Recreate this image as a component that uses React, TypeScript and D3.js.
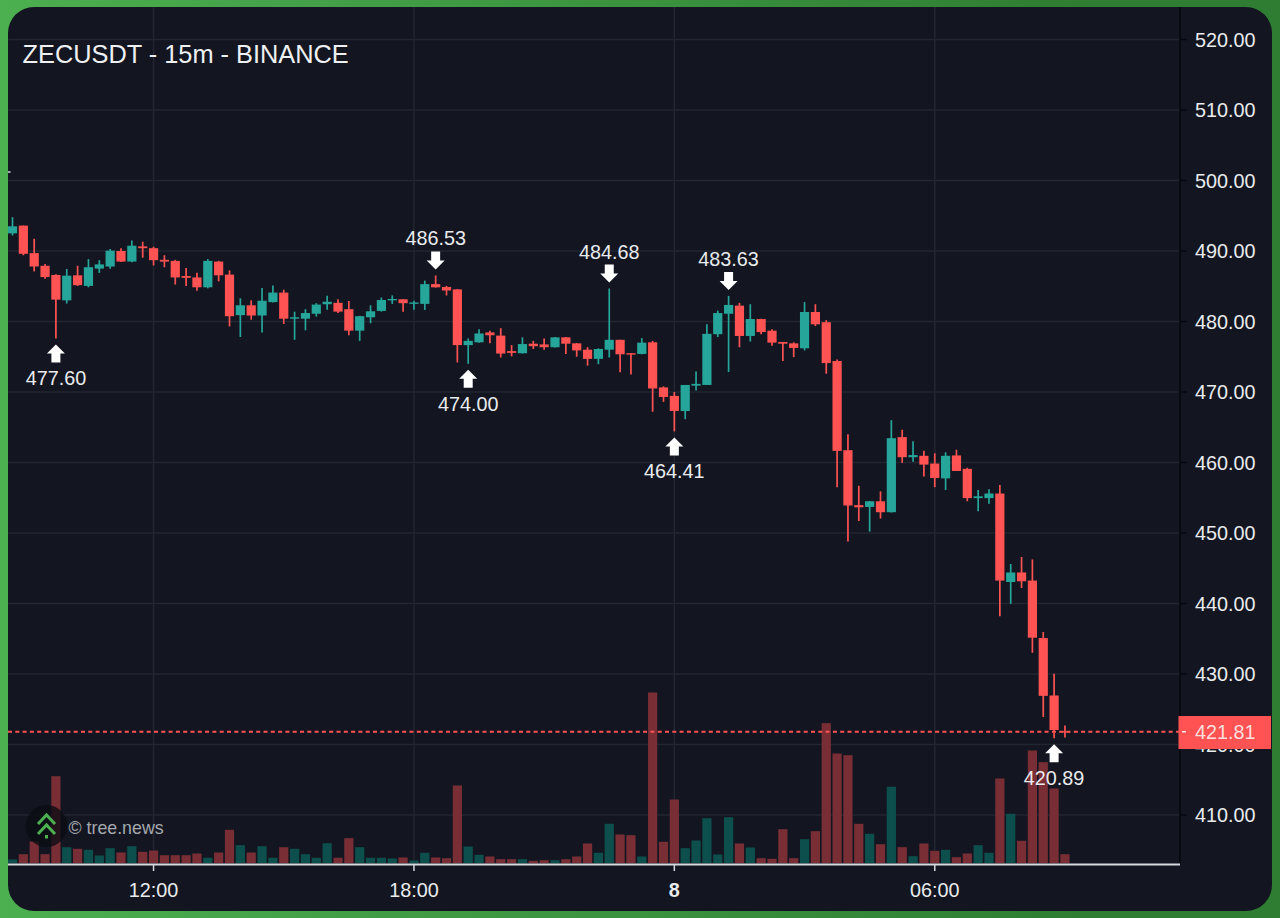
import React from "react";
import * as d3 from "d3";

const title = "ZECUSDT - 15m - BINANCE";
const watermark = "© tree.news";

const opens = [492.5,493.6,489.7,487.9,486.6,483,486.55,485.05,487.5,487.8,490,488.5,490.65,490.4,488.75,488.6,486.45,486.25,484.85,488.5,486.65,480.9,482.3,480.85,482.75,484.1,480.4,480.4,481.1,482.45,482.65,481.75,478.7,480.6,481.5,483,483.15,482.55,482.5,485.3,484.9,484.55,476.65,477.05,478.45,478,475.8,475.5,476.85,476.75,476.35,477.75,476.9,476,474.7,476,477.4,475.5,475.4,477.05,470.65,469.45,467.3,470.9,471,478.2,481.1,482.25,477.95,480.35,478.7,477.1,476.9,476.2,481.35,479.9,474.4,461.75,453.95,453.7,454.5,452.95,463.6,460.75,460.95,459.85,457.75,461,459.1,454.95,454.95,455.6,443.05,444.4,443.25,435.1,426.95,421.9];
const highs = [494.8,493.6,491.75,488.15,486.7,487.45,487.9,488.85,488.7,490.3,490.4,491.5,491.3,490.6,489.4,488.75,487.6,486.9,488.85,488.6,487.25,483.3,483,484.75,485.1,484.5,481.4,481.75,482.6,483.65,483.15,482.9,480.8,482.3,483.4,483.7,483.15,482.95,485.8,486.53,485.05,484.6,477.6,478.9,478.7,479.05,476.65,477.75,477.25,477.6,477.8,477.8,476.95,476.35,476.2,484.68,477.4,475.5,477.65,477.25,470.8,470,470.95,472.9,479.6,481.55,483.63,482.65,482.45,480.4,478.9,477.1,477.05,482.75,482.45,480.2,474.6,464,456.7,454.55,455.9,466,464.65,463,461.65,461.3,461.45,461.8,459.25,456.1,456.2,456.8,445.6,446.6,446.25,435.95,430.05,422.7];
const lows = [492.2,489.4,487.1,486.05,477.6,482.55,485.05,484.85,486.9,487.5,488.45,488.4,489.05,487.95,487.7,485.25,485.05,484.35,484.7,485.7,479.3,477.8,480.25,478.45,482.7,479.65,477.4,478.75,480.7,481.65,481.2,478.05,477.25,479.75,481.4,482.5,481.4,481.65,481.65,484.8,483.7,474.2,474,477,476.9,474.9,475.05,475.45,476.1,476,476.3,475.4,475,473.75,473.95,474.9,472.8,472.5,475.35,467.2,468.6,464.41,466.15,470.2,471,477.8,472.85,476.35,477.15,478.2,476.55,474.4,474.95,475.9,479.35,472.6,456.5,448.8,451.7,450.2,452.05,452.9,459.95,460.1,458,456.5,456.1,458.8,454.5,453.1,454.15,438.2,439.95,442.2,433,423.9,420.89,421];
const closes = [493.5,489.6,487.8,486.3,483.1,486.5,485.15,487.7,488.1,490.05,488.5,490.75,490.4,488.7,488.5,486.25,486.2,484.85,488.6,486.55,480.75,482.3,480.85,482.95,484.1,480.4,480.6,481.2,482.4,482.8,481.4,478.7,480.75,481.45,483.05,483.2,482.6,482.7,485.3,484.85,484.4,476.65,477.25,478.3,478.05,475.45,475.55,476.8,476.5,476.35,477.75,476.85,475.9,474.7,476.1,477.4,475.35,475.3,477,470.5,469.3,467.3,471,471.15,478.25,481.2,482.35,477.95,480.35,478.5,477,476.85,476.25,481.35,479.6,474.1,461.65,453.9,453.65,454.5,452.95,463.45,460.75,461.05,459.7,457.8,460.95,458.8,454.95,455.2,455.6,443.25,444.4,443.15,435.15,426.9,422.05,421.81];
const volumes = [4,9.3,22,9.3,87.3,16.3,14.7,13.7,8,15.3,11,17.3,11.7,13,8.3,8.3,8.3,10,5.7,11,33.7,18.3,11,17.3,5.7,16.3,14.7,9.3,5.7,20.3,5.7,25.3,16.3,5.7,5.7,5,6,3,10.7,6,5.3,78,17,8.7,7,4.3,4.3,4.3,2.7,3.3,3.3,4.3,7,20,10.7,39.7,29,28.3,7,171,21.7,64,15.3,23,45.3,9,46.3,20,16,5.3,4.7,34.3,5.3,24.3,32.3,140.3,110,108.3,39.7,29.7,19.3,76.7,16.3,7.3,20,12.7,13.7,6.3,10,18.3,10.7,85,49.7,22.7,113,101.3,75,9.3];

const priceTicks = [520,510,500,490,480,470,460,450,440,430,420,410];
const timeIndexes = [13,37,61,85];
const timeLabels = ["12:00","18:00","8","06:00"];
const markerIndexes = [4,39,42,55,61,66,96];
const markerPrices = [477.6,486.53,474,484.68,464.41,483.63,420.89];
const markerDirections = ["up","down","up","down","up","down","up"];
const lastPrice = 421.81;

const UP = "#26a69a";
const DOWN = "#ff5252";
const VOL_UP = "#0d4f4c";
const VOL_DOWN = "#792e36";
const PANEL = "#131620";
const GRID = "#222631";
const TEXT = "#e9ebee";
const FONT = "'Liberation Sans', Arial, sans-serif";

const W = 1280;
const H = 918;
const PANE_L = 8;
const PANE_R = 1180;
const BASE = 863.5;

const x = d3.scaleLinear().domain([0, 97]).range([12.5, 1064.95]);
const y = d3.scaleLinear().domain([520, 410]).range([39.5, 815]);
const v = d3.scaleLinear().domain([0, 171]).range([BASE, 692.5]);

const arrowUp = "M0,0 L9,9 L4.5,9 L4.5,18 L-4.5,18 L-4.5,9 L-9,9 Z";
const arrowDown = "M0,0 L9,-9 L4.5,-9 L4.5,-18 L-4.5,-18 L-4.5,-9 L-9,-9 Z";

export default function App() {
  const bw = 9.2;
  return (
    <svg
      width={W}
      height={H}
      viewBox={`0 0 ${W} ${H}`}
      style={{ position: "fixed", left: 0, top: 0, display: "block" }}
      fontFamily={FONT}
    >
      <defs>
        <linearGradient id="frame" x1="0" y1="0" x2="1" y2="0">
          <stop offset="0" stopColor="#4caf50" />
          <stop offset="0.85" stopColor="#2e7d32" />
          <stop offset="1" stopColor="#2e7d32" />
        </linearGradient>
        <clipPath id="pane">
          <rect x={PANE_L} y={7} width={PANE_R - PANE_L} height={BASE - 7} />
        </clipPath>
      </defs>
      <rect width={W} height={H} fill="url(#frame)" />
      <rect x={PANE_L} y={7} width={1264} height={904} rx={26} ry={26} fill={PANEL} />

      <g clipPath="url(#pane)">
        {priceTicks.map((p) => (
          <line key={p} x1={PANE_L} x2={PANE_R} y1={y(p)} y2={y(p)} stroke={GRID} strokeWidth={1.5} />
        ))}
        {timeIndexes.map((i) => (
          <line key={i} x1={x(i)} x2={x(i)} y1={7} y2={BASE} stroke={GRID} strokeWidth={1.5} />
        ))}
        {volumes.map((val, i) => (
          <rect
            key={i}
            x={x(i) - bw / 2}
            y={v(val)}
            width={bw}
            height={BASE - v(val)}
            fill={closes[i] >= opens[i] ? VOL_UP : VOL_DOWN}
          />
        ))}
        <line
          x1={PANE_L}
          x2={PANE_R}
          y1={y(lastPrice)}
          y2={y(lastPrice)}
          stroke={DOWN}
          strokeWidth={2}
          strokeDasharray="4 3.3"
        />
        {opens.map((o, i) => {
          const c = closes[i];
          const col = c >= o ? UP : DOWN;
          const top = y(Math.max(o, c));
          const bot = y(Math.min(o, c));
          return (
            <g key={i}>
              <line x1={x(i)} x2={x(i)} y1={y(highs[i])} y2={y(lows[i])} stroke={col} strokeWidth={1.7} />
              <rect x={x(i) - bw / 2} y={top} width={bw} height={Math.max(1.4, bot - top)} fill={col} />
            </g>
          );
        })}
      </g>

      <line x1={PANE_L} x2={10.5} y1={172} y2={172} stroke="#d8dade" strokeWidth={1.5} />

      <line x1={PANE_R} x2={PANE_R} y1={7} y2={BASE} stroke="#07080c" strokeWidth={1.5} />
      <line x1={PANE_L} x2={PANE_R} y1={864.5} y2={864.5} stroke="#d6d8de" strokeWidth={2} />

      {priceTicks.map((p) => (
        <g key={p}>
          <line x1={PANE_R} x2={1187} y1={y(p)} y2={y(p)} stroke="#07080c" strokeWidth={1.5} />
          <text x={1195} y={y(p) + 7} fontSize={19.8} fill={TEXT}>
            {d3.format(".2f")(p)}
          </text>
        </g>
      ))}

      {timeIndexes.map((i, k) => (
        <g key={i}>
          <line x1={x(i)} x2={x(i)} y1={865} y2={871} stroke="#d6d8de" strokeWidth={1.5} />
          <text
            x={x(i)}
            y={897}
            fontSize={19.8}
            fill={TEXT}
            textAnchor="middle"
            fontWeight={timeLabels[k] === "8" ? "bold" : "normal"}
          >
            {timeLabels[k]}
          </text>
        </g>
      ))}

      <rect x={1178.5} y={716} width={92.5} height={33} fill={DOWN} />
      <line x1={1182} x2={1186} y1={y(lastPrice)} y2={y(lastPrice)} stroke="#ffe9e9" strokeWidth={1.5} />
      <text x={1195} y={y(lastPrice) + 7} fontSize={19.8} fill="#ffdede">
        {d3.format(".2f")(lastPrice)}
      </text>

      {markerIndexes.map((idx, k) => {
        const isUp = markerDirections[k] === "up";
        const px = x(idx);
        const py = y(markerPrices[k]);
        const tip = isUp ? py + 6 : py - 6;
        const labelY = isUp ? tip + 41 : tip - 24;
        return (
          <g key={idx}>
            <path d={isUp ? arrowUp : arrowDown} transform={`translate(${px},${tip})`} fill="#ffffff" />
            <text x={px} y={labelY} fontSize={19.8} fill={TEXT} textAnchor="middle">
              {d3.format(".2f")(markerPrices[k])}
            </text>
          </g>
        );
      })}

      <text x={22.5} y={63} fontSize={25.35} fill="#eef0f2">
        {title}
      </text>

      <circle cx={46.5} cy={826} r={21} fill="#0b0d13" opacity={0.8} />
      <g fill="none" stroke="#4caf50" strokeWidth={3}>
        <path d="M38,824 L46.5,815 L55,824" />
        <path d="M38,834 L46.5,825 L55,834" />
      </g>
      <rect x={45} y={835} width={3} height={3.5} fill="#4caf50" />
      <text x={68.5} y={833.5} fontSize={17.8} fill="#a5a8ae">
        {watermark}
      </text>
    </svg>
  );
}
